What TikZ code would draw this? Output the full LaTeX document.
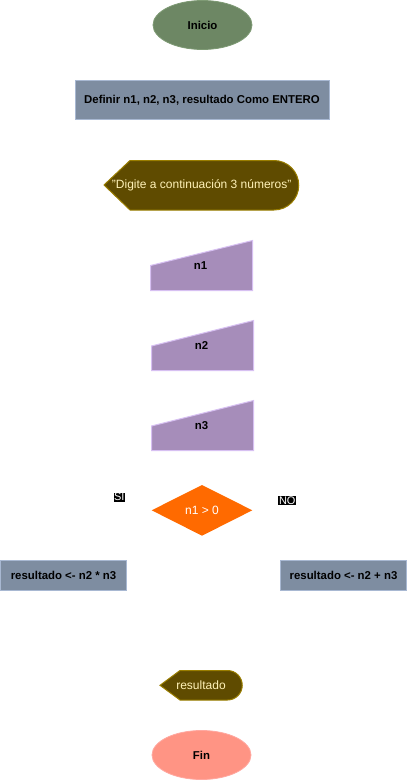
\documentclass[tikz,border=0pt]{standalone}
\usepackage{fontspec}
\setmainfont{Liberation Sans}
\definecolor{inicioFill}{HTML}{6D8764}
\definecolor{inicioDraw}{HTML}{7E9A74}
\definecolor{defFill}{HTML}{7E8DA1}
\definecolor{defDraw}{HTML}{A8B8D2}
\definecolor{dispFill}{HTML}{5F4B00}
\definecolor{dispDraw}{HTML}{9A7E00}
\definecolor{dispText}{HTML}{FFF2B8}
\definecolor{manFill}{HTML}{A68DBA}
\definecolor{manDraw}{HTML}{D7C0F2}
\definecolor{decFill}{HTML}{FF6A00}
\definecolor{finFill}{HTML}{FF9484}
\definecolor{finDraw}{HTML}{FFA8A0}
\tikzset{
  boldtxt/.style={font=\fontsize{11.4}{13}\selectfont\bfseries, text=black, inner sep=0pt},
  regtxt/.style={font=\fontsize{12}{14}\selectfont, inner sep=0pt},
  procbox/.style={fill=defFill, draw=defDraw, line width=1pt},
  manshape/.style={fill=manFill, draw=manDraw, line width=1pt},
  dispshape/.style={fill=dispFill, draw=dispDraw, line width=1pt},
  tag/.style={fill=black, text=white, font=\fontsize{11}{12}\selectfont, inner sep=0.6pt}
}
\begin{document}
\begin{tikzpicture}[x=1pt,y=-1pt]
\useasboundingbox (0,0) rectangle (407,781);
% Inicio
\fill[inicioFill, draw=inicioDraw, line width=0.8pt] (202.5,25) ellipse [x radius=49.5, y radius=24.5];
\node[boldtxt] (inicio) at (202.5,25) {Inicio};
% Definir
\path[procbox] (75.5,80.5) rectangle (329,120);
\node[boldtxt] (definir) at (202,100) {Definir n1, n2, n3, resultado Como ENTERO};
% Display
\path[dispshape] (104,185) -- (130,160.5) -- (274,160.5) arc[start angle=-90, end angle=90, radius=24.75] -- (130,210) -- cycle;
\node[regtxt, text=dispText] (digite) at (201.7,185) {"Digite a continuación 3 números"};
% Manual inputs
\path[manshape] (150.5,265.5) -- (252.5,240.5) -- (252.5,290.5) -- (150.5,290.5) -- cycle;
\node[boldtxt] (n1) at (200.5,265.5) {n1};
\path[manshape] (151.5,346) -- (253.5,320.5) -- (253.5,370.5) -- (151.5,370.5) -- cycle;
\node[boldtxt] (n2) at (201.5,345.5) {n2};
\path[manshape] (151.5,426) -- (253.5,400.5) -- (253.5,450.5) -- (151.5,450.5) -- cycle;
\node[boldtxt] (n3) at (201.5,425.5) {n3};
% Decision
\fill[decFill] (151.7,510.3) -- (202,485) -- (252.3,510.3) -- (202,535.7) -- cycle;
\node[regtxt, text=white] (cond) at (202,510.3) {n1 > 0};
\node[tag] (si) at (119.3,497.2) {SI};
\node[tag] (no) at (287.3,500.5) {NO};
% Process boxes
\path[procbox] (0.5,560.5) rectangle (126.5,590);
\node[boldtxt] (mult) at (63.5,575.3) {resultado <- n2 * n3};
\path[procbox] (280.5,560.5) rectangle (406.5,590);
\node[boldtxt] (suma) at (343.5,575.3) {resultado <- n2 + n3};
% Output
\path[dispshape] (160,685.3) -- (180,670.5) -- (227.5,670.5) arc[start angle=-90, end angle=90, radius=14.75] -- (180,700) -- cycle;
\node[regtxt, text=dispText] (res) at (201,685.3) {resultado};
% Fin
\fill[finFill, draw=finDraw, line width=0.8pt] (201.5,755) ellipse [x radius=49.5, y radius=24.5];
\node[boldtxt] (fin) at (201.5,755) {Fin};
\end{tikzpicture}
\end{document}
